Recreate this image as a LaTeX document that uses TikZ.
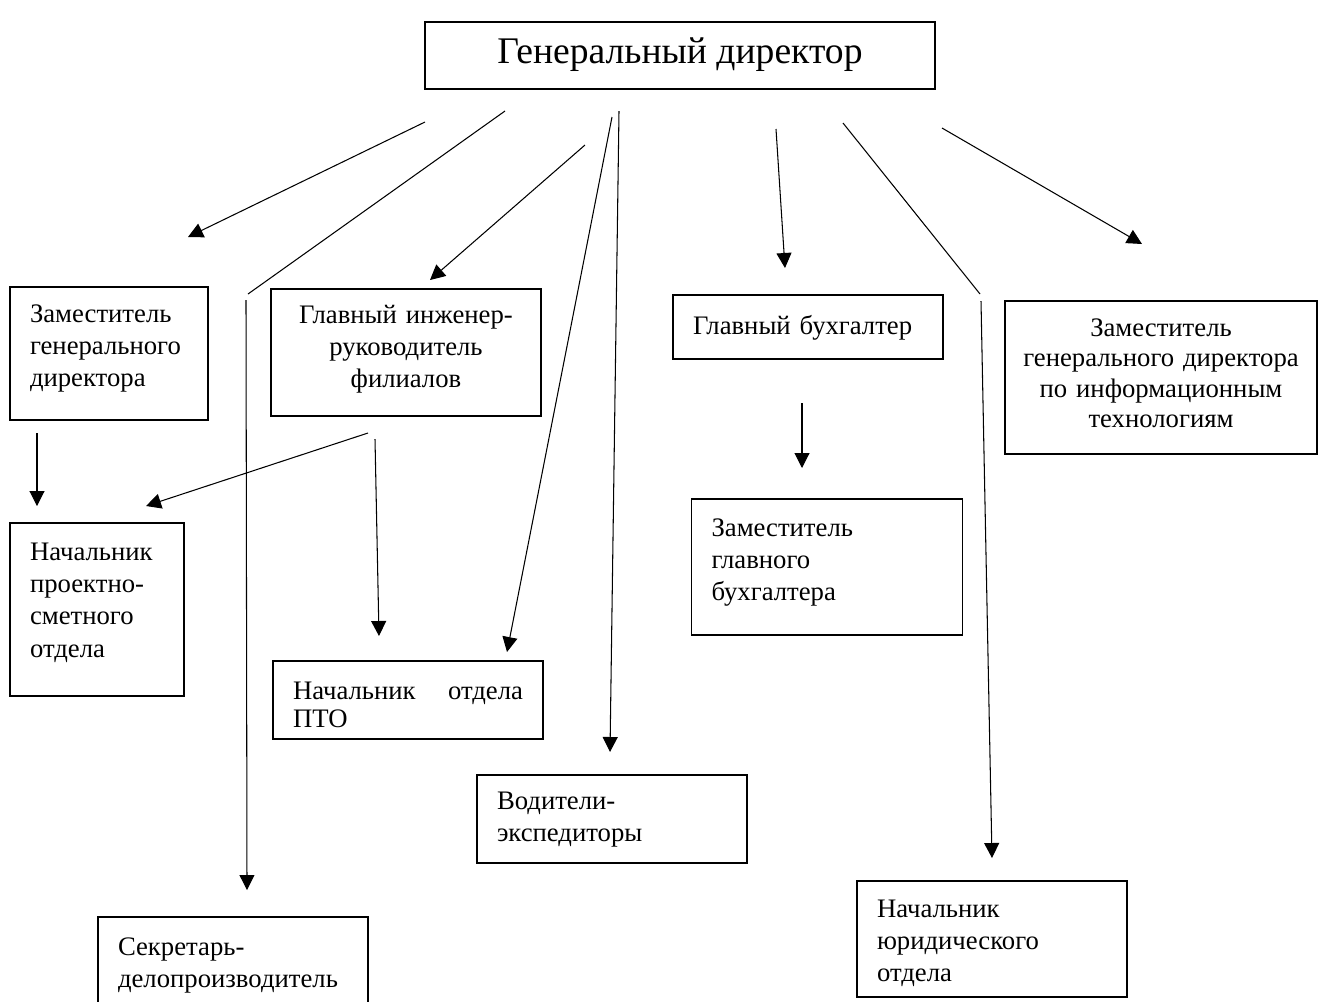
\documentclass[tikz,border=0pt]{standalone}
\usepackage{fontspec}
\setmainfont{Liberation Serif}
\usetikzlibrary{arrows.meta}

\begin{document}
\begin{tikzpicture}[
		line width=0.6pt,
		every node/.style={draw, rectangle, inner xsep=0.4cm, inner ysep=0pt, font=\fontsize{15.2pt}{18.4pt}\selectfont},
		leftbox/.style={align=left, text width=#1},
		midbox/.style={align=center, text width=#1},
		lineup/.style={text height=0pt, text depth=#1},
		linedown/.style={text depth=0pt, text height=#1},
		arr/.style={-{Triangle[length=0.3cm, width=0.3cm]}}
	]
  \useasboundingbox (0cm, 0cm) rectangle (26.38cm, -20.02cm);
  % boxes
  \node (gd) [minimum width=10.2cm, minimum height=1.34cm, linedown=0.3cm, font=\fontsize{21.4pt}{26pt}\selectfont] at (13.6cm, -1.11cm) {Генеральный директор};
  \node (zam) [leftbox=3.16cm, minimum height=2.66cm, lineup=1.26cm] at (2.18cm, -7.07cm) {Заместитель\\генерального\\директора};
  \node (gi) [midbox=4.6cm, minimum height=2.54cm, lineup=1.18cm] at (8.12cm, -7.05cm) {Главный инженер-\\руководитель\\филиалов};
  \node (gb) [leftbox=4.6cm, minimum height=1.28cm, linedown=0.28cm] at (16.16cm, -6.54cm) {Главный бухгалтер};
  \node (zit) [midbox=6cm, inner xsep=0.12cm, minimum height=3.06cm, lineup=1.66cm, font=\fontsize{15.2pt}{17.4pt}\selectfont] at (23.22cm, -7.55cm) {Заместитель\\генерального директора\\по информационным\\технологиям};
  \node (nps) [leftbox=2.68cm, minimum height=3.46cm, lineup=1.98cm] at (1.94cm, -12.19cm) {Начальник\\проектно-\\сметного\\отдела};
  \node (npto) [leftbox=4.6cm, minimum height=1.56cm, lineup=0.04cm, font=\fontsize{15.2pt}{16.4pt}\selectfont] at (8.16cm, -14cm) {Начальник\hfill отдела\\ПТО};
  \node (zgb) [leftbox=4.62cm, minimum height=2.72cm, lineup=1.24cm] at (16.54cm, -11.34cm) {Заместитель\\главного\\бухгалтера};
  \node (vod) [leftbox=4.6cm, minimum height=1.76cm, lineup=0.4cm] at (12.24cm, -16.38cm) {Водители-\\экспедиторы};
  \node (sek) [leftbox=4.6cm, minimum height=1.76cm, lineup=0.24cm] at (4.66cm, -19.22cm) {Секретарь-\\делопроизводитель};
  \node (nyu) [leftbox=4.6cm, minimum height=2.32cm, lineup=0.88cm] at (19.84cm, -18.78cm) {Начальник\\юридического\\отдела};
  % loose ends of the arrows
  \coordinate (zam_a) at (8.5cm, -2.44cm);
  \coordinate (zam_b) at (3.76cm, -4.74cm);
  \coordinate (sek_a) at (10.1cm, -2.22cm);
  \coordinate (sek_b) at (4.96cm, -5.88cm);
  \coordinate (sek_c) at (4.92cm, -6cm);
  \coordinate (sek_d) at (4.94cm, -17.8cm);
  \coordinate (gi_a) at (11.7cm, -2.9cm);
  \coordinate (gi_b) at (8.6cm, -5.6cm);
  \coordinate (npto_a) at (12.24cm, -2.34cm);
  \coordinate (npto_b) at (10.14cm, -13.04cm);
  \coordinate (vod_a) at (12.38cm, -2.22cm);
  \coordinate (vod_b) at (12.2cm, -15.04cm);
  \coordinate (gb_a) at (15.52cm, -2.58cm);
  \coordinate (gb_b) at (15.7cm, -5.36cm);
  \coordinate (nyu_a) at (16.86cm, -2.46cm);
  \coordinate (nyu_b) at (19.6cm, -5.88cm);
  \coordinate (nyu_c) at (19.62cm, -6.02cm);
  \coordinate (nyu_d) at (19.84cm, -17.16cm);
  \coordinate (zit_a) at (18.84cm, -2.56cm);
  \coordinate (zit_b) at (22.84cm, -4.88cm);
  \coordinate (nps_a) at (0.74cm, -8.66cm);
  \coordinate (nps_b) at (0.74cm, -10.12cm);
  \coordinate (nps_c) at (7.36cm, -8.66cm);
  \coordinate (nps_d) at (2.92cm, -10.12cm);
  \coordinate (npto_c) at (7.5cm, -8.78cm);
  \coordinate (npto_d) at (7.58cm, -12.72cm);
  \coordinate (zgb_a) at (16.04cm, -8.06cm);
  \coordinate (zgb_b) at (16.04cm, -9.36cm);
  % arrows
  \draw [arr] (zam_a) -- (zam_b);
  \draw (sek_a) -- (sek_b);
  \draw [arr] (sek_c) -- (sek_d);
  \draw [arr] (gi_a) -- (gi_b);
  \draw [arr] (npto_a) -- (npto_b);
  \draw [arr] (vod_a) -- (vod_b);
  \draw [arr] (gb_a) -- (gb_b);
  \draw (nyu_a) -- (nyu_b);
  \draw [arr] (nyu_c) -- (nyu_d);
  \draw [arr] (zit_a) -- (zit_b);
  \draw [arr] (nps_a) -- (nps_b);
  \draw [arr] (nps_c) -- (nps_d);
  \draw [arr] (npto_c) -- (npto_d);
  \draw [arr] (zgb_a) -- (zgb_b);
\end{tikzpicture}
\end{document}
